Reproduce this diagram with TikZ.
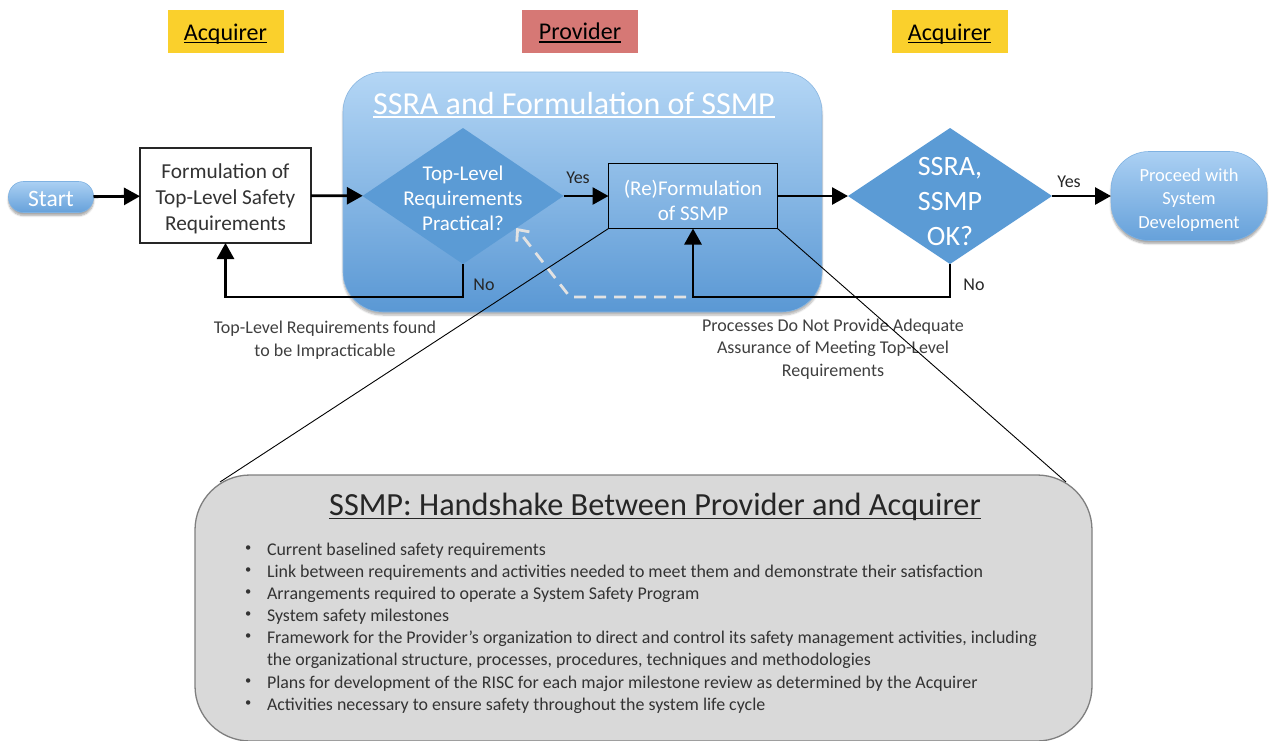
\documentclass[tikz,border=0pt]{standalone}
\usepackage{fontspec}
\setmainfont{Carlito}
\usetikzlibrary{arrows.meta,shapes.geometric,shadows.blur,calc}

\definecolor{acqyellow}{HTML}{FAD02C}
\definecolor{provred}{HTML}{D67875}
\definecolor{diamblue}{HTML}{5B9BD5}
\definecolor{areatop}{HTML}{B4D6F5}
\definecolor{areabot}{HTML}{5A98D4}
\definecolor{pilltop}{HTML}{ABD0F3}
\definecolor{pillbot}{HTML}{66A1DA}
\definecolor{pilledge}{HTML}{7FB2E2}
\definecolor{panelgray}{HTML}{D9D9D9}
\definecolor{panelline}{HTML}{7F7F7F}
\definecolor{notegray}{HTML}{3F3F3F}
\definecolor{dashgray}{HTML}{E2E2E2}

% underlined text with a rule just under the baseline
\newcommand\ulinetext[1]{\setbox0\hbox{#1}\rlap{\rule[-0.12em]{\wd0}{0.055em}}\box0}
% small list bullet
\newcommand\listdot{\makebox[22pt][l]{\raisebox{0.18em}{\scalebox{0.7}{•}}}}

\begin{document}
\begin{tikzpicture}[x=1pt,y=-1pt,
  every node/.style={inner sep=0pt, outer sep=0pt},
  rolebox/.style={minimum width=116pt, minimum height=43pt},
  roletext/.style={font=\fontsize{24}{28}\selectfont, text=black},
  pill/.style={rounded corners=#1, top color=pilltop, bottom color=pillbot,
    draw=pilledge, line width=0.6pt, text=white,
    blur shadow={shadow xshift=0pt, shadow yshift=-3pt, shadow blur steps=6, shadow opacity=35}},
  decision/.style={shape=diamond, fill=diamblue, inner sep=0pt},
  decisiontext/.style={text=white, align=center},
  flow/.style={line width=2.8pt, -{Triangle[length=16pt,width=17pt]}},
  branchlabel/.style={font=\fontsize{18}{20}\selectfont, text=black!85},
  note/.style={font=\fontsize{18}{22.5}\selectfont, text=notegray, align=center},
  callout/.style={line width=0.9pt, black},
  backloop/.style={line width=2.8pt, dashgray, dash pattern=on 12pt off 8pt,
    -{Straight Barb[length=9pt,width=16pt,line width=2.8pt]}},
  bullettext/.style={font=\fontsize{17.9}{22}\selectfont, text=black!80, anchor=base west}
]
\useasboundingbox (0,0) rectangle (1269,740);

% role headers
\node[rolebox, fill=acqyellow] (roleA) at (225.5,31) {};
\node[roletext] (roleAtxt) at (225.5,34) {\ulinetext{Acquirer}};
\node[rolebox, fill=provred] (roleP) at (580,31) {};
\node[roletext] (rolePtxt) at (580,33) {\ulinetext{Provider}};
\node[rolebox, fill=acqyellow] (roleB) at (949.5,31) {};
\node[roletext] (roleBtxt) at (949.5,34) {\ulinetext{Acquirer}};

% provider activity area
\node[rounded corners=40pt, top color=areatop, bottom color=areabot,
  draw=areabot!70!white, line width=0.6pt,
  minimum width=479pt, minimum height=240pt,
  blur shadow={shadow xshift=0pt, shadow yshift=-3pt, shadow blur steps=6, shadow opacity=30}]
  (area) at (582.5,192) {};
\node[text=white, font=\fontsize{32}{36}\selectfont] (areatitle) at (574,105)
  {\ulinetext{SSRA and Formulation of SSMP}};

% flow nodes
\node[pill=15pt, minimum width=85pt, minimum height=31pt] (start) at (51,197) {};
\node[text=white, font=\fontsize{23.5}{26}\selectfont] (starttxt) at (51,199) {Start};
\node[draw=black!85, line width=1.3pt, fill=white, minimum width=171pt, minimum height=95pt]
  (form) at (225.5,195.5) {};
\node[align=center, font=\fontsize{21.3}{26}\selectfont, text=black!80]
  (formtxt) at (225.5,199) {Formulation of\\Top-Level Safety\\Requirements};
\node[decision, minimum width=201pt, minimum height=136pt] (dec1) at (463,196) {};
\node[decisiontext, font=\fontsize{21}{25}\selectfont] (dec1txt) at (463,198)
  {Top-Level\\Requirements\\Practical?};
\node[draw=black, line width=1.3pt, minimum width=169pt, minimum height=65pt]
  (reform) at (693,196) {};
\node[align=center, text=white, font=\fontsize{21}{25}\selectfont]
  (reformtxt) at (693,200) {(Re)Formulation\\of SSMP};
\node[decision, minimum width=204pt, minimum height=136pt] (dec2) at (950,196) {};
\node[decisiontext, font=\fontsize{28}{35}\selectfont] (dec2txt) at (950,202)
  {SSRA,\\SSMP\\OK?};
\node[pill=38pt, minimum width=156pt, minimum height=89pt]
  (proceed) at (1189,196) {};
\node[align=center, text=white, font=\fontsize{18.5}{23.5}\selectfont]
  (proceedtxt) at (1189,200) {Proceed with\\System\\Development};

% forward flow
\draw[flow] (start) -- (form);
\draw[flow] (form) -- (dec1);
\draw[flow] (dec1) -- (reform);
\node[branchlabel] (yes1) at (578,178) {Yes};
\draw[flow] (reform) -- (dec2);
\draw[flow] (dec2) -- (proceed);
\node[branchlabel] (yes2) at (1069,182) {Yes};

% rework loops
\coordinate (loop1) at (463,297);
\coordinate (loop2) at (950,297);
\draw[flow] (dec1.south) -- (loop1) -| (form.south);
\node[branchlabel] (no1) at (484,285) {No};
\draw[flow] (dec2.south) -- (loop2) -| (reform.south);
\node[branchlabel] (no2) at (974,285) {No};

% return to the practicality check
\coordinate (backstart) at (686,297);
\coordinate (backturn) at (570,297);
\coordinate (backtip) at ($(dec1.east)!0.47!(dec1.south)$);
\draw[backloop] (backstart) -- (backturn) -- (backtip);

% loop annotations
\node[note] (note1) at (325,340) {Top-Level Requirements found\\to be Impracticable};
\node[note] (note2) at (833,349) {Processes Do Not Provide Adequate\\Assurance of Meeting Top-Level\\Requirements};

% SSMP detail panel
\node[draw=panelline, line width=1.3pt, fill=panelgray, rounded corners=55pt,
  minimum width=897pt, minimum height=266pt] (panel) at (643.5,608) {};
\coordinate (calloutL) at (220,482);
\coordinate (calloutR) at (1066,482);
\draw[callout] (reform.south west) -- (calloutL);
\draw[callout] (reform.south east) -- (calloutR);

\node[font=\fontsize{32.3}{36}\selectfont, text=black!85] (paneltitle) at (655,507)
  {\ulinetext{SSMP: Handshake Between Provider and Acquirer}};

\node[bullettext] (b1) at (245,555) {\listdot Current baselined safety requirements};
\node[bullettext] (b2) at (245,577) {\listdot Link between requirements and activities needed to meet them and demonstrate their satisfaction};
\node[bullettext] (b3) at (245,599) {\listdot Arrangements required to operate a System Safety Program};
\node[bullettext] (b4) at (245,621) {\listdot System safety milestones};
\node[bullettext] (b5) at (245,643) {\listdot Framework for the Provider’s organization to direct and control its safety management activities, including};
\node[bullettext] (b5b) at (267,665) {the organizational structure, processes, procedures, techniques and methodologies};
\node[bullettext] (b6) at (245,688) {\listdot Plans for development of the RISC for each major milestone review as determined by the Acquirer};
\node[bullettext] (b7) at (245,710) {\listdot Activities necessary to ensure safety throughout the system life cycle};
\end{tikzpicture}
\end{document}
